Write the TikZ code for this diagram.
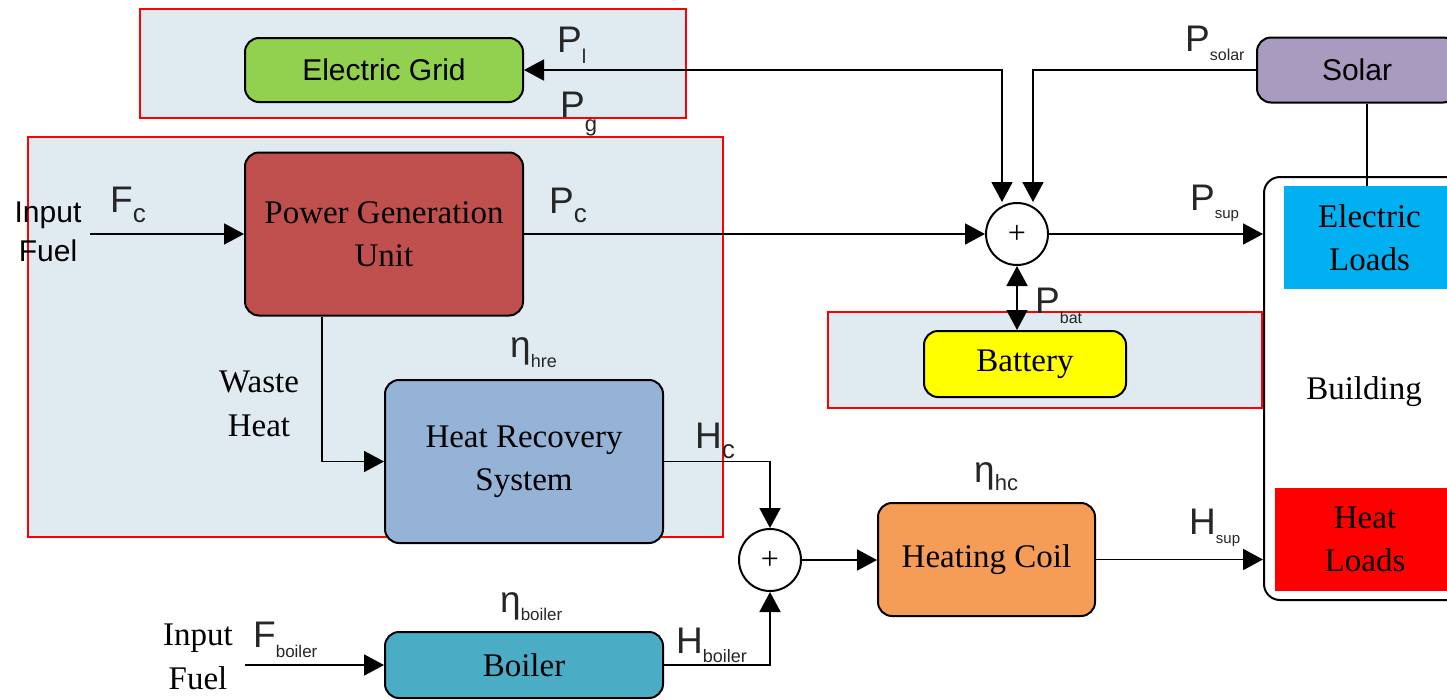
\documentclass[tikz,border=0pt]{standalone}
\usepackage{fontspec}
\setmainfont{Liberation Serif}
\setsansfont{Liberation Sans}
\usetikzlibrary{arrows.meta}
\definecolor{framebg}{HTML}{DFEAF1}
\definecolor{gridgreen}{HTML}{92D050}
\definecolor{solarpurple}{HTML}{A99BC0}
\definecolor{pgured}{HTML}{C0504D}
\definecolor{hrsblue}{HTML}{95B3D7}
\definecolor{coilorange}{HTML}{F59D56}
\definecolor{boilerteal}{HTML}{4BACC6}
\definecolor{eloadcyan}{HTML}{00B0F0}
\definecolor{batyellow}{HTML}{FFFF00}
\newcommand\lbl[4]{{\fontsize{37}{37}\selectfont #1}\raisebox{#4pt}{\fontsize{#3}{#3}\selectfont #2}}
\begin{document}
\begin{tikzpicture}[x=1pt,y=-1pt,
  frame/.style={draw=red, line width=2.5pt, fill=framebg},
  blk/.style={draw=black, line width=2pt, rounded corners=14pt, inner sep=0pt, align=center,
    font=\fontsize{33}{43}\selectfont},
  sblk/.style={blk, font=\sffamily\fontsize{30}{38}\selectfont},
  load/.style={inner sep=0pt, align=center, font=\fontsize{33}{43}\selectfont},
  sumnode/.style={circle, draw=black, line width=2pt, minimum size=62pt, inner sep=0pt, fill=white,
    font=\fontsize{32}{32}\selectfont},
  lnk/.style={line width=1.8pt, -{Triangle[length=20pt,width=21pt]}},
  dlnk/.style={line width=1.8pt, {Triangle[length=20pt,width=21pt]}-{Triangle[length=20pt,width=21pt]}},
  plain/.style={line width=1.8pt},
  qlabel/.style={anchor=base west, inner sep=0pt, text=black!85, font=\sffamily},
  txt/.style={inner sep=0pt, align=center, font=\fontsize{33}{44}\selectfont}
]
\useasboundingbox[fill=white] (0,0) rectangle (1447,699);

% background frames
\draw[frame] (140,9) rectangle (686,118);
\draw[frame] (28,137) rectangle (723,537);
\draw[frame] (828,312) rectangle (1262,408);

% building and loads
\node[draw=black, line width=2pt, rounded corners=16pt, minimum width=220pt, minimum height=423pt] (bldg) at (1374,388.5) {};
\node[load, fill=eloadcyan, minimum width=171pt, minimum height=103pt] (eload) at (1369.5,237.5) {Electric\\Loads};
\node[load, fill=red, minimum width=180pt, minimum height=103pt] (hload) at (1365,539.5) {Heat\\Loads};
\node[txt] (bldgtxt) at (1364,392) {Building};

% blocks
\node[sblk, fill=gridgreen, minimum width=278pt, minimum height=64pt] (grid) at (384,70) {Electric Grid};
\node[sblk, fill=solarpurple, minimum width=200pt, minimum height=65pt] (solar) at (1357,70) {Solar};
\node[blk, fill=pgured, minimum width=278pt, minimum height=163pt] (pgu) at (384,234) {Power Generation\\Unit};
\node[blk, fill=hrsblue, minimum width=278pt, minimum height=163pt] (hrs) at (524,461.5) {Heat Recovery\\System};
\node[blk, fill=batyellow, minimum width=202pt, minimum height=66pt] (battery) at (1025,364) {Battery};
\node[blk, fill=coilorange, minimum width=217pt, minimum height=113pt] (hcoil) at (986.5,559.5) {Heating Coil};
\node[blk, fill=boilerteal, minimum width=278pt, minimum height=66pt] (boiler) at (524,665) {Boiler};

\node[sumnode] (plus1) at (1017,234) {+};
\node[sumnode] (plus2) at (770,560) {+};

% free texts
\node[inner sep=0pt, align=center, font=\sffamily\fontsize{30}{39}\selectfont] (infuel1) at (48,231.5) {Input\\Fuel};
\node[txt] (infuel2) at (198,657) {Input\\Fuel};
\node[txt] (waste) at (259,404) {Waste\\Heat};

% connector helper points
\coordinate (g1) at (1002,70);
\coordinate (s1) at (1033,70);
\coordinate (sl) at (1367,0);
\coordinate (in1) at (90,234);
\coordinate (in2) at (245,665);
\coordinate (wh) at (322,461.5);
\coordinate (hc) at (770,461.5);

% connectors
\draw[dlnk] (grid.east) -- (g1) -- (g1 |- plus1.north);
\draw[lnk] (solar.west) -- (s1) -- (s1 |- plus1.north);
\draw[plain] (sl |- eload.north) -- (sl |- solar.south);
\draw[lnk] (pgu.east) -- (plus1.west);
\draw[lnk] (plus1.east) -- (plus1.east -| bldg.west);
\draw[dlnk] (plus1.south) -- (plus1.south |- battery.north);
\draw[lnk] (in1) -- (pgu.west);
\draw[lnk] (wh |- pgu.south) -- (wh) -- (hrs.west);
\draw[lnk] (hrs.east) -- (hc) -- (plus2.north);
\draw[lnk] (plus2.east) -- (plus2.east -| hcoil.west);
\draw[lnk] (hcoil.east) -- (hcoil.east -| bldg.west);
\draw[lnk] (boiler.east) -- (boiler.east -| plus2) -- (plus2.south);
\draw[lnk] (in2) -- (boiler.west);

% quantity labels
\node[qlabel] (lPl) at (557,52) {\lbl{P}{l}{20}{-11}};
\node[qlabel] (lPg) at (560,117) {\lbl{P}{g}{22}{-14}};
\node[qlabel] (lPc) at (549,213) {\lbl{P}{c}{26}{-9}};
\node[qlabel] (lFc) at (110,212) {\lbl{F}{c}{26}{-10}};
\node[qlabel] (lPsolar) at (1185,51) {\lbl{P}{solar}{16}{-9}};
\node[qlabel] (lPsup) at (1190,210) {\lbl{P}{sup}{15}{-8}};
\node[qlabel] (lPbat) at (1035,313) {\lbl{P}{bat}{16}{-10}};
\node[qlabel] (letahre) at (510,357) {\lbl{η}{hre}{18}{-10}};
\node[qlabel] (lHc) at (695,448) {\lbl{H}{c}{26}{-10}};
\node[qlabel] (letahc) at (974,482) {\lbl{η}{hc}{22}{-8}};
\node[qlabel] (lHsup) at (1189,534) {\lbl{H}{sup}{15}{-9}};
\node[qlabel] (letaboiler) at (500,612) {\lbl{η}{boiler}{17}{-8}};
\node[qlabel] (lHboiler) at (676,653) {\lbl{H}{boiler}{18}{-9}};
\node[qlabel] (lFboiler) at (253,647) {\lbl{F}{boiler}{17}{-10}};
\end{tikzpicture}
\end{document}
